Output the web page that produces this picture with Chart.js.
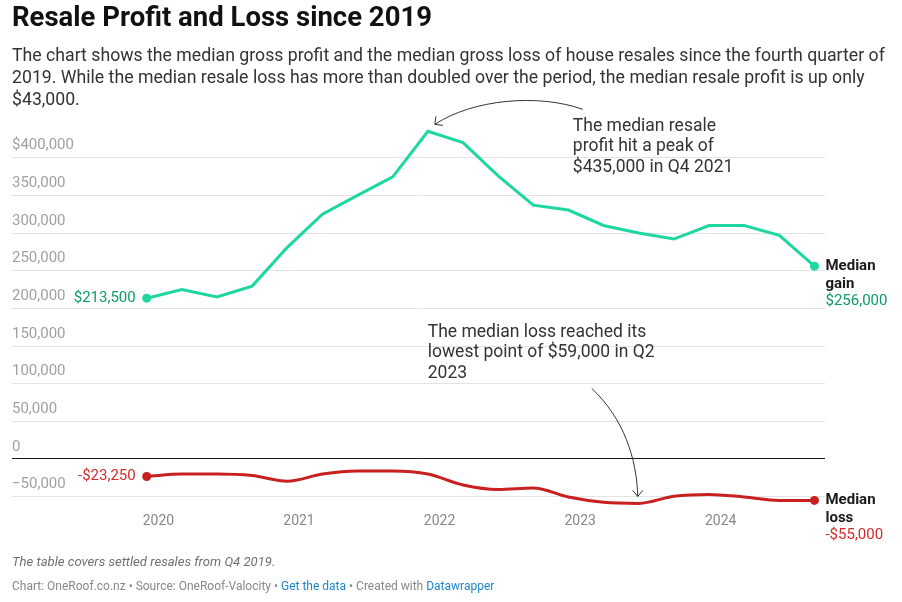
<!doctype html>
<html lang="en">
<head>
  <meta charset="utf-8">
  <title>Resale Profit and Loss since 2019</title>
  <style>
    * {
      margin: 0;
      padding: 0;
      font-family: Roboto, sans-serif;
    }

    body {
      width: 902px;
      height: 602px;
      background: #fff;
      position: relative;
      overflow: hidden;
    }

    #myChart {
      position: absolute;
      left: 0;
      top: 0;
    }

    .title {
      position: absolute;
      left: 12px;
      top: 1px;
      font-size: 27.5px;
      line-height: 32px;
      font-weight: 700;
      color: #111;
    }

    .intro {
      position: absolute;
      left: 12px;
      top: 44px;
      font-size: 17.7px;
      line-height: 22px;
      color: #333;
      white-space: nowrap;
    }

    .note {
      position: absolute;
      left: 12px;
      top: 553px;
      font-size: 13.1px;
      line-height: 18px;
      font-style: italic;
      color: #707070;
    }

    .source {
      position: absolute;
      left: 12px;
      top: 578px;
      font-size: 12px;
      line-height: 16px;
      color: #888;
    }

    .source a {
      color: #1d87c9;
      text-decoration: none;
    }
  </style>
</head>
<body>
<canvas id="myChart" width="902" height="602"></canvas>
<div class="title">Resale Profit and Loss since 2019</div>
<div class="intro">The chart shows the median gross profit and the median gross loss of house resales since the fourth quarter of<br>2019. While the median resale loss has more than doubled over the period, the median resale profit is up only<br>$43,000.</div>
<div class="note">The table covers settled resales from Q4 2019.</div>
<div class="source">Chart: OneRoof.co.nz • Source: OneRoof-Valocity • <a>Get the data</a> • Created with <a>Datawrapper</a></div>

<script src="https://cdn.jsdelivr.net/npm/chart.js"></script>
<script>
  // data
  const quarters = ['Q4 2019', 'Q1 2020', 'Q2 2020', 'Q3 2020', 'Q4 2020', 'Q1 2021', 'Q2 2021', 'Q3 2021',
    'Q4 2021', 'Q1 2022', 'Q2 2022', 'Q3 2022', 'Q4 2022', 'Q1 2023', 'Q2 2023', 'Q3 2023',
    'Q4 2023', 'Q1 2024', 'Q2 2024', 'Q3 2024'];
  const medianGain = [213500, 225000, 215000, 229500, 281000, 325000, 350000, 374500,
    435000, 420000, 376000, 337000, 330500, 310000, 300000, 292000,
    310000, 310000, 297000, 256000];
  const medianLoss = [-23250, -20000, -20000, -22000, -29500, -20000, -16000, -16000,
    -20000, -34500, -40500, -38500, -50500, -57500, -59000, -49500,
    -47000, -50500, -55000, -55000];
  const years = ['2020', '2021', '2022', '2023', '2024'];
  const yTicks = [-50000, 0, 50000, 100000, 150000, 200000, 250000, 300000, 350000, 400000];

  const green = '#1ed6a0';
  const greenText = '#0c9a68';
  const red = '#c8201f';
  const redText = '#d42a2a';

  const fmt = v => v.toLocaleString('en-US');
  const money = v => (v < 0 ? '-$' : '$') + fmt(Math.abs(v));
  const lastIdx = quarters.length - 1;
  const endDots = ctx => (ctx.dataIndex === 0 || ctx.dataIndex === lastIdx) ? 4.5 : 0;

  // year tick sits two thirds of a quarter before each Q1 point
  const yearPos = years.map(y => quarters.indexOf('Q1 ' + y) - 2 / 3);

  // labels, notes and arrows
  const labelsPlugin = {
    id: 'labels',
    afterDatasetsDraw(chart) {
      const {ctx, scales: {x, y}} = chart;
      ctx.save();
      ctx.textBaseline = 'middle';

      // start values
      ctx.font = '15px Roboto';
      ctx.textAlign = 'right';
      ctx.fillStyle = greenText;
      ctx.fillText(money(medianGain[0]), x.getPixelForValue(0) - 11, y.getPixelForValue(medianGain[0]));
      ctx.fillStyle = redText;
      ctx.fillText(money(medianLoss[0]), x.getPixelForValue(0) - 11, y.getPixelForValue(medianLoss[0]));

      // end labels
      const ex = x.getPixelForValue(lastIdx) + 11;
      ctx.textAlign = 'left';
      const gy = y.getPixelForValue(medianGain[lastIdx]);
      ctx.font = 'bold 15px Roboto';
      ctx.fillStyle = '#1a1a1a';
      ctx.fillText('Median', ex, gy);
      ctx.fillText('gain', ex, gy + 18);
      ctx.font = '15px Roboto';
      ctx.fillStyle = greenText;
      ctx.fillText(money(medianGain[lastIdx]), ex, gy + 35);

      const ly = y.getPixelForValue(medianLoss[lastIdx]);
      ctx.font = 'bold 15px Roboto';
      ctx.fillStyle = '#1a1a1a';
      ctx.fillText('Median', ex, ly);
      ctx.fillText('loss', ex, ly + 18);
      ctx.font = '15px Roboto';
      ctx.fillStyle = redText;
      ctx.fillText(money(medianLoss[lastIdx]), ex, ly + 35);

      // peak note
      const px = x.getPixelForValue(8), py = y.getPixelForValue(medianGain[8]);
      ctx.font = '17.5px Roboto';
      ctx.fillStyle = '#333';
      ctx.fillText('The median resale', px + 145, py - 5);
      ctx.fillText('profit hit a peak of', px + 145, py + 15);
      ctx.fillText('$435,000 in Q4 2021', px + 145, py + 36);

      ctx.strokeStyle = '#333';
      ctx.lineWidth = 1;
      ctx.beginPath();
      ctx.moveTo(px + 155, py - 22);
      ctx.bezierCurveTo(px + 110, py - 38, px + 45, py - 32, px + 7, py - 7);
      ctx.stroke();
      ctx.beginPath();
      ctx.moveTo(px + 8, py - 15);
      ctx.lineTo(px + 7, py - 7);
      ctx.lineTo(px + 15, py - 6);
      ctx.stroke();

      // low note
      const qx = x.getPixelForValue(14), qy = y.getPixelForValue(medianLoss[14]);
      ctx.fillText('The median loss reached its', qx - 211, qy - 171);
      ctx.fillText('lowest point of $59,000 in Q2', qx - 211, qy - 151);
      ctx.fillText('2023', qx - 211, qy - 130);

      ctx.beginPath();
      ctx.moveTo(qx - 47, qy - 115);
      ctx.bezierCurveTo(qx - 15, qy - 85, qx - 2, qy - 45, qx - 1, qy - 7);
      ctx.stroke();
      ctx.beginPath();
      ctx.moveTo(qx - 6, qy - 13);
      ctx.lineTo(qx - 1, qy - 7);
      ctx.lineTo(qx + 4, qy - 13);
      ctx.stroke();

      ctx.restore();
    }
  };

  const data = {
    datasets: [{
      label: 'Median gain',
      data: medianGain.map((v, i) => ({x: i, y: v})),
      borderColor: green,
      backgroundColor: green,
      borderWidth: 3,
      tension: 0,
      pointRadius: endDots,
      pointBorderWidth: 0
    }, {
      label: 'Median loss',
      data: medianLoss.map((v, i) => ({x: i, y: v})),
      borderColor: red,
      backgroundColor: red,
      borderWidth: 3,
      cubicInterpolationMode: 'monotone',
      pointRadius: endDots,
      pointBorderWidth: 0
    }]
  };

  const config = {
    type: 'line',
    data,
    options: {
      responsive: false,
      animation: false,
      devicePixelRatio: 1,
      layout: {
        padding: {left: 12, right: 77, top: 108, bottom: 69}
      },
      plugins: {
        legend: {display: false},
        tooltip: {enabled: false}
      },
      scales: {
        x: {
          type: 'linear',
          min: -3.833,
          max: 19.3,
          grid: {display: false, drawTicks: false},
          border: {display: false},
          afterBuildTicks: scale => {
            scale.ticks = yearPos.map(v => ({value: v}));
          },
          ticks: {
            padding: 3,
            color: '#888',
            font: {family: 'Roboto', size: 14},
            callback: (v) => years[yearPos.indexOf(v)]
          }
        },
        y: {
          min: -68000,
          max: 466000,
          grid: {
            drawTicks: false,
            color: c => c.tick.value === 0 ? '#1a1a1a' : '#e3e3e3',
            lineWidth: 1
          },
          border: {display: false},
          afterBuildTicks: scale => {
            scale.ticks = yTicks.map(v => ({value: v}));
          },
          ticks: {
            mirror: true,
            padding: 0,
            labelOffset: -12,
            color: '#a0a0a0',
            font: {family: 'Roboto', size: 15},
            callback: v => v === 400000 ? '$' + fmt(v) : (v < 0 ? '\u2212' + fmt(-v) : fmt(v))
          }
        }
      }
    },
    plugins: [labelsPlugin]
  };

  const myChart = new Chart(document.getElementById('myChart'), config);
</script>
</body>
</html>
